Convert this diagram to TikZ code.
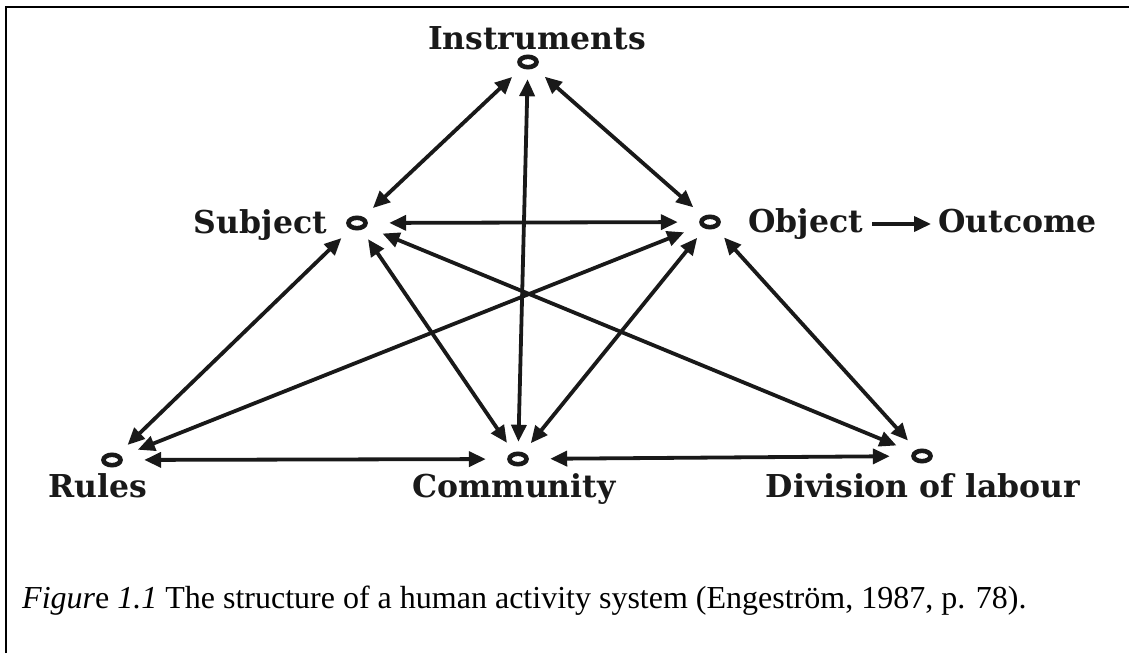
\documentclass[tikz,border=0pt]{standalone}
\usepackage{fontspec}
\setmainfont{Liberation Serif}
\newfontfamily\labfont{DejaVu Serif}
\usetikzlibrary{arrows.meta,shapes.geometric}
\begin{document}
\begin{tikzpicture}[x=1pt,y=-1pt,
  pt/.style={ellipse, minimum width=64pt, minimum height=34pt, inner sep=0pt},
  ring/.style={line width=4.6pt, black!90},
  tip/.tip={Triangle[length=17pt,width=15pt]},
  link/.style={line width=3.8pt, black!90, tip-tip},
  onearrow/.style={line width=3.8pt, black!90, -tip},
  lab/.style={font=\labfont\bfseries\fontsize{31.5}{36}\selectfont, inner sep=0pt, text height=22pt, text depth=6pt, text=black!90}]
\useasboundingbox (0,0) rectangle (1129,653);
% frame
\draw[line width=2.6pt] (6,653) -- (6,7) -- (1129,7);
% points
\node[pt] (I) at (528,62) {};
\node[pt] (S) at (357,223) {};
\node[pt] (O) at (710,222) {};
\node[pt] (R) at (112,460) {};
\node[pt] (C) at (518,459) {};
\node[pt] (D) at (922,456) {};
\foreach \n in {I,S,O,R,C,D} \draw[ring] (\n.center) ellipse [x radius=8.5pt, y radius=5.2pt];
% labels
\node[lab, anchor=base] (Il) at (537,49) {Instruments};
\node[lab, anchor=base east] (Sl) at (327,233) {Subject};
\node[lab, anchor=base west] (Ol) at (748,232) {Object};
\node[lab, anchor=base west] (Out) at (938,232) {Outcome};
\node[lab, anchor=base] (Rl) at (98,497) {Rules};
\node[lab, anchor=base] (Cl) at (514,497) {Community};
\node[lab, anchor=base] (Dl) at (923,497) {Division of labour};
% links
\draw[link] (I) -- (S);
\draw[link] (I) -- (O);
\draw[link] (I) -- (C);
\draw[link] (S) -- (O);
\draw[link] (S) -- (R);
\draw[link] (S) -- (C);
\draw[link] (S) -- (D);
\draw[link] (O) -- (R);
\draw[link] (O) -- (C);
\draw[link] (O) -- (D);
\draw[link] (R) -- (C);
\draw[link] (C) -- (D);
\draw[onearrow, shorten <=9pt, shorten >=7pt] (Ol.east) -- (Out.west);
% caption
\node[anchor=base west, inner sep=0pt, font=\fontsize{32}{36}\selectfont] (cap) at (22,608)
  {\textit{Figur}e \textit{1.1} The structure of a human activity system (Engeström, 1987, p. 78).};
\end{tikzpicture}
\end{document}
